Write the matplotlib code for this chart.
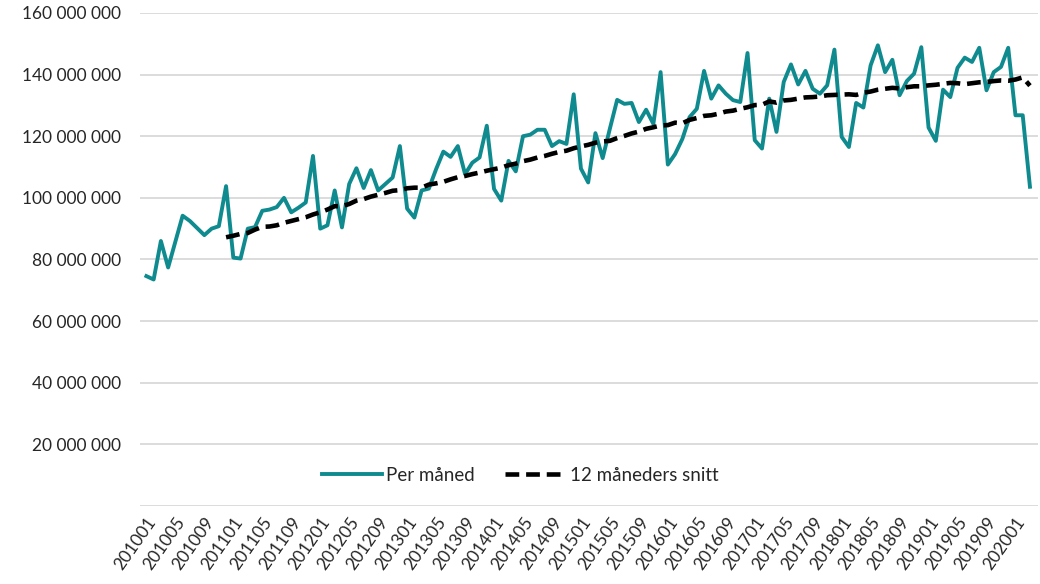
import matplotlib
matplotlib.use('Agg')
import matplotlib.pyplot as plt
from matplotlib.ticker import FuncFormatter

plt.rcParams['font.family'] = ['Lato', 'DejaVu Sans']

# monthly values, million, 201001 - 202003
per_maaned = [74.6, 73.5, 86.0, 77.4, 85.8, 94.2, 92.5, 90.2, 87.9, 90.0, 90.8, 103.8,
              80.6, 80.3, 90.0, 90.5, 95.8, 96.2, 97.0, 100.0, 95.3, 96.8, 98.5, 113.6,
              90.0, 91.1, 102.4, 90.4, 104.5, 109.6, 103.2, 109.0, 102.4, 104.5, 106.6, 116.8,
              96.5, 93.6, 102.4, 103.0, 109.3, 115.0, 113.3, 116.8, 107.7, 111.4, 113.1, 123.4,
              102.9, 99.1, 112.0, 108.6, 120.0, 120.5, 122.1, 122.1, 116.8, 118.4, 117.5, 133.6,
              109.5, 105.0, 121.0, 112.9, 122.5, 131.8, 130.5, 130.8, 124.6, 128.6, 124.0, 140.8,
              110.8, 114.2, 119.1, 126.2, 128.9, 141.2, 132.2, 136.5, 133.8, 131.7, 131.1, 147.0,
              118.7, 116.0, 132.2, 121.4, 137.6, 143.3, 136.8, 141.2, 135.4, 133.8, 136.5, 148.1,
              119.8, 116.5, 130.8, 129.3, 143.0, 149.5, 140.8, 144.8, 133.3, 137.9, 140.3, 148.9,
              122.8, 118.5, 135.1, 132.7, 142.2, 145.5, 144.1, 148.7, 134.9, 140.8, 142.5, 148.7,
              126.8, 126.8, 103.6]

# 12 month average, starts at 201012
snitt = [87.2,
         87.7, 88.3, 88.6, 89.7, 90.6, 90.7, 91.1, 91.9, 92.5, 93.1, 93.7, 94.6,
         95.3, 96.2, 97.3, 97.3, 98.0, 99.1, 99.6, 100.4, 101.0, 101.6, 102.3, 102.5,
         103.1, 103.3, 103.3, 104.3, 104.7, 105.2, 106.0, 106.7, 107.1, 107.7, 108.2, 108.8,
         109.3, 109.8, 110.6, 111.1, 111.9, 112.4, 113.1, 113.6, 114.3, 114.9, 115.3, 116.1,
         116.7, 117.2, 117.9, 118.3, 118.5, 119.4, 120.1, 120.9, 121.5, 122.4, 122.9, 123.5,
         123.6, 124.4, 124.2, 125.3, 125.9, 126.6, 126.8, 127.3, 128.0, 128.3, 128.9, 129.4,
         130.1, 130.2, 131.3, 130.9, 131.6, 131.8, 132.2, 132.6, 132.7, 132.9, 133.3, 133.4,
         133.5, 133.6, 133.4, 134.1, 134.5, 135.1, 135.4, 135.7, 135.5, 135.9, 136.2, 136.2,
         136.5, 136.7, 137.0, 137.3, 137.2, 136.9, 137.2, 137.5, 137.6, 137.9, 138.1, 138.0,
         138.4, 139.1, 136.4]

months = []
for y in range(2010, 2021):
    for m in range(1, 13):
        months.append('%d%02d' % (y, m))
months = months[:len(per_maaned)]

x = list(range(len(per_maaned)))
x_snitt = x[11:]

fig = plt.figure(figsize=(10.4, 5.84), dpi=100)
ax = fig.add_axes([0.135, 0.1336, 0.863, 0.8442])

ax.plot(x, [v * 1e6 for v in per_maaned], '-', color='#0f8b8f', lw=2.8, label='Per måned', zorder=3)
ax.plot(x_snitt, [v * 1e6 for v in snitt], '--', color='black', lw=3.3, dashes=(3.0, 1.5),
        label='12 måneders snitt', zorder=4)

ax.set_ylim(0, 160e6)
ax.set_yticks([i * 20e6 for i in range(9)])
ax.yaxis.set_major_formatter(FuncFormatter(
    lambda v, p: '' if v == 0 else format(int(round(v)), ',').replace(',', ' ')))
ax.set_xlim(-0.83, 123.1)
ax.set_xticks(x[::4])
ax.set_xticklabels(months[::4], rotation=55, ha='right', va='top', rotation_mode='anchor')

ax.grid(axis='y', color='#d9d9d9', lw=1.3)
ax.set_axisbelow(True)
for s in ax.spines.values():
    s.set_visible(False)
ax.tick_params(length=0, labelsize=12.5, colors='#262626')
ax.tick_params(axis='y', pad=14)
ax.tick_params(axis='x', pad=6)

ax.legend(loc='center', bbox_to_anchor=(0.423, 0.062), ncol=2, frameon=False,
          fontsize=13.5, handlelength=3.2, handletextpad=0.25, columnspacing=1.6,
          labelcolor='#262626')

plt.savefig('out.png', dpi=100)
